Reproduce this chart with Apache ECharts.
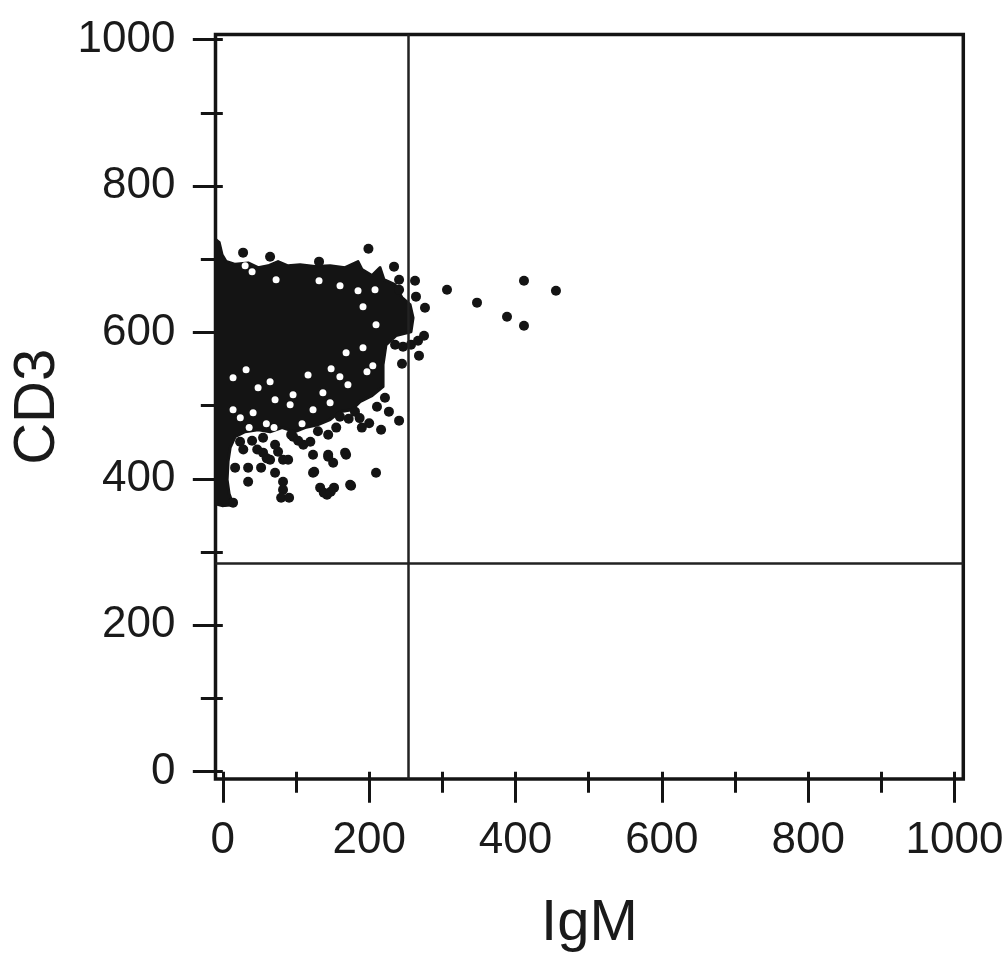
<!DOCTYPE html>
<html><head><meta charset="utf-8">
<script src="https://cdn.jsdelivr.net/npm/echarts@6/dist/echarts.min.js"></script>
<style>html,body{margin:0;padding:0;background:#fff}#c{width:1008px;height:962px}</style>
</head><body><div id="c"></div>
<script>
// Axis ticks
const xMajorTicks = [0, 200, 400, 600, 800, 1000];
const xMinorTicks = [100, 300, 500, 700, 900];
const yMajorTicks = [0, 200, 400, 600, 800, 1000];
const yMinorTicks = [100, 300, 500, 700, 900];
const xTitle = 'IgM';
const yTitle = 'CD3';
// Quadrant gates
const igmGate = 254;
const cd3Gate = 285;
// Outline of the dense (saturated) event cloud [IgM, CD3]
const coreOutline = [
  [-10,727],[-5,723],[-1,706],[4.5,697],[17,693],[34.6,695],[48.2,688.5],[61.9,691],
  [75.5,696.8],[89.1,691],[105.6,692.6],[126,690],[146.6,691],[167,688.5],[184.8,696.8],
  [190.3,685.9],[203.9,677.7],[214.9,688.5],[220.3,672],[235.4,665.3],[244.9,647.5],
  [255.9,638],[260,620],[257.2,601],[236.7,595.6],[223,583],[219,556],[219,526],
  [204,513.6],[187.5,505.4],[176.6,494.5],[160.2,491.8],[146.6,480.8],[130.2,474],
  [112.4,470],[98.8,464.4],[81,470],[64.6,464.4],[48.2,467.2],[30.5,464.4],[16.8,457.6],
  [10,442.6],[7.2,423.5],[5.9,398.9],[8.6,379.7],[14,364.7],[-1,363.4],[-10,366]
];
// Empty gaps inside the dense cloud [IgM, CD3]
const coreHoles = [
  [30.5,691],[40,683],[72.8,672],[131.5,670.7],[160.2,663.9],[184.8,657],[208,658.3],
  [191.6,635],[209.4,610.6],[31.8,549],[14,538],[48.2,524.5],[64.6,532.7],[96,515],
  [116.5,542],[148,550.5],[160,539.6],[168.5,572.4],[171,528.6],[136.8,517.7],[71.4,508],
  [14,494.5],[41.4,490.4],[123.3,494.5],[146.6,504],[92,501.3],[191.6,579],[197,546.4],
  [205,554.6],[59.5,475.4],[108.3,475.4],[23.9,483.6],[36,470],[70,470]
];
// Individual events outside the dense cloud [IgM, CD3]
const sparseEvents = [
  [199,714.4],[27.7,709],[64.6,703.5],[131.5,696.7],[234,689.9],[240.9,672],[262.7,670.7],
  [240.9,658.4],[306.4,658.4],[264,648.9],[276.3,633.8],[347.4,640.7],[411.6,670.7],
  [455.3,657],[388.4,621.5],[411.6,609.2],[268.1,568.3],[244.9,557.3],
  [235.4,583.3],[246.3,580.6],[257.2,583.3],[266.8,588.7],[275,595.6],
  [221.6,510.9],[210.7,498.6],[227,491.8],[240.9,479.5],[180.6,491.8],[216.3,467.2],
  [168.5,433],[209.4,408.4],[175.3,390.7],[144,430.3],[124.9,409.8],[96.1,457.6],
  [23.6,450.8],[34.6,415.3],[52.3,415.3],[34.6,396],
  [82.3,396],[82.3,385.2],[79.7,374.3],[90.6,374.3],
  [133,388],[142.4,378.4],[152,388],[138,381.1],[147.5,382.5],
  [14,367.5],[55,456.2],[71.4,446.7],[75.5,437.1],[82.3,426.2],[93.4,460.3],
  [110,446.7],[119.6,450.8],[144,460.3],[123.3,433],[144,433],[150.8,422.1],[167.1,435.8],
  [55,435.8],[64.6,426.2],[89.3,426.2],[16.8,415.3],[71.4,408.4],[123.3,408.4],[174,392],
  [103,452],[160,485],[172,482],[187,483],[200,476],[47,440],[60,428],[190,470],
  [130,465],[155,470],[28,440],[40,452]
];

const INK = '#141414';
const FONT = 'Liberation Sans, Arial, Helvetica, sans-serif';
const chart = echarts.init(document.getElementById('c'), null, {renderer: 'canvas'});
const plain = v => String(v);

function xAxisDef(ticks, len, labels) {
  return {
    type: 'value', min: -10, max: 1012, position: 'bottom', offset: 0, gridIndex: 0,
    axisLine: {show: false},
    splitLine: {show: false},
    axisTick: {show: true, inside: false, length: len, customValues: ticks, lineStyle: {color: INK, width: 3}},
    axisLabel: labels ? {show: true, customValues: ticks, formatter: plain, margin: 40, fontSize: 44, fontFamily: FONT, color: '#1a1a1a'} : {show: false},
    name: labels ? xTitle : '',
    nameLocation: 'middle', nameGap: 116,
    nameTextStyle: {fontSize: 58, fontFamily: FONT, color: '#1a1a1a'}
  };
}
function yAxisDef(ticks, len, labels) {
  return {
    type: 'value', min: -10, max: 1007, position: 'left', offset: 0, gridIndex: 0,
    axisLine: {show: false},
    splitLine: {show: false},
    axisTick: {show: true, inside: false, length: len, customValues: ticks, lineStyle: {color: INK, width: 3}},
    axisLabel: labels ? {show: true, customValues: ticks, formatter: plain, margin: 40, fontSize: 44, fontFamily: FONT, color: '#1a1a1a'} : {show: false},
    name: labels ? yTitle : '',
    nameLocation: 'middle', nameGap: 135,
    nameTextStyle: {fontSize: 58, fontFamily: FONT, color: '#1a1a1a'}
  };
}

chart.setOption({
  animation: false,
  backgroundColor: '#fff',
  grid: {left: 215.5, right: 44.7, top: 34.5, bottom: 183, show: true, borderColor: INK, borderWidth: 3.5, backgroundColor: 'transparent', containLabel: false, outerBoundsMode: 'none'},
  xAxis: [xAxisDef(xMajorTicks, 31, true), xAxisDef(xMinorTicks, 21, false)],
  yAxis: [yAxisDef(yMajorTicks, 30, true), yAxisDef(yMinorTicks, 22, false)],
  series: [
    {
      type: 'custom', xAxisIndex: 0, yAxisIndex: 0, silent: true,
      data: [coreOutline[0]],
      renderItem: function (params, api) {
        const pts = coreOutline.map(p => api.coord(p));
        return {type: 'polygon', shape: {points: pts}, style: {fill: INK, stroke: INK, lineWidth: 3, lineJoin: 'round'}};
      }
    },
    {
      type: 'scatter', xAxisIndex: 0, yAxisIndex: 0, silent: true,
      data: coreHoles, symbol: 'circle', symbolSize: 7,
      itemStyle: {color: '#fff', opacity: 1}
    },
    {
      type: 'scatter', xAxisIndex: 0, yAxisIndex: 0, silent: true,
      data: sparseEvents, symbol: 'circle', symbolSize: 10,
      itemStyle: {color: INK, opacity: 1},
      markLine: {
        silent: true, symbol: ['none', 'none'], label: {show: false},
        lineStyle: {color: '#222', width: 2.5, type: 'solid'},
        data: [{xAxis: igmGate}, {yAxis: cd3Gate}]
      }
    }
  ]
});
</script></body></html>
